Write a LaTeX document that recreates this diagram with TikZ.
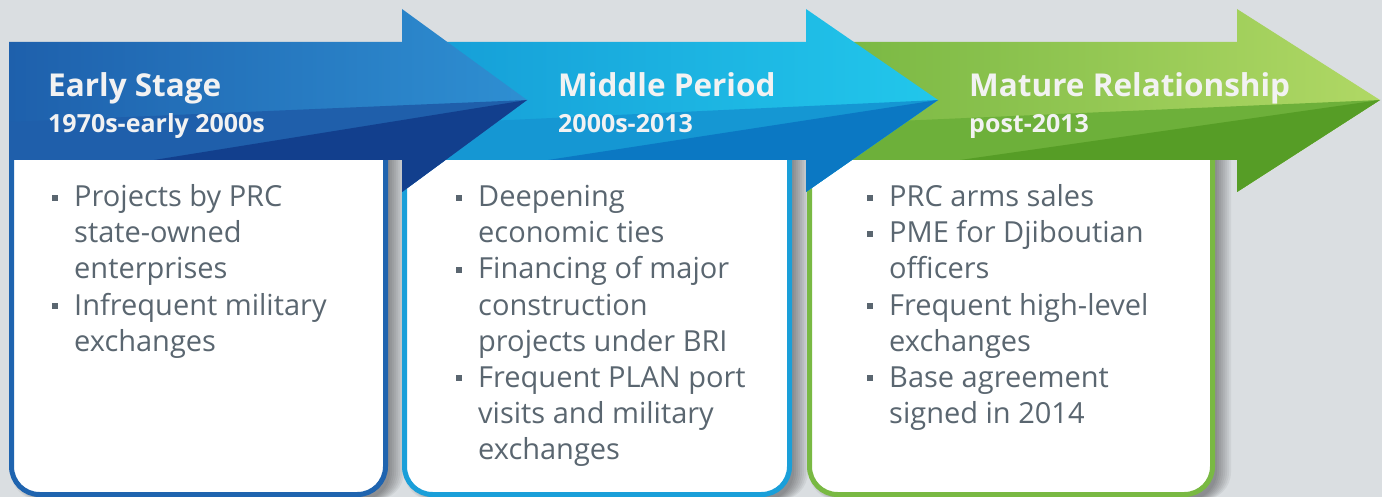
\documentclass[tikz,border=0pt]{standalone}
\usepackage{fontspec}
\setmainfont{Open Sans}
\definecolor{bg}{HTML}{DADEE1}
\definecolor{aoneL}{HTML}{1E60AC}
\definecolor{aoneR}{HTML}{2E8FD2}
\definecolor{aoneM}{HTML}{1F5FAB}
\definecolor{aoneD}{HTML}{123F8D}
\definecolor{atwoL}{HTML}{159CD6}
\definecolor{atwoR}{HTML}{22C7EB}
\definecolor{atwoM}{HTML}{1597D3}
\definecolor{atwoD}{HTML}{0B78C3}
\definecolor{athrL}{HTML}{76B641}
\definecolor{athrR}{HTML}{B0D865}
\definecolor{athrM}{HTML}{6DB03A}
\definecolor{athrD}{HTML}{569D26}
\definecolor{cone}{HTML}{1F64AF}
\definecolor{ctwo}{HTML}{1A9FD9}
\definecolor{cthr}{HTML}{79B943}
\definecolor{ttl}{HTML}{F2F2F2}
\definecolor{txt}{HTML}{5A6670}
\tikzset{
  cardbox/.style={line width=5pt, fill=white, rounded corners=28pt},
  titletext/.style={inner sep=0pt, anchor=base west, text=ttl, font=\bfseries\fontsize{31.5}{36}\selectfont},
  subtext/.style={inner sep=0pt, anchor=base west, text=ttl, font=\bfseries\fontsize{25}{30}\selectfont},
  bodytext/.style={inner sep=0pt, anchor=base west, text=txt, font=\fontsize{29}{36}\selectfont},
}
\newcommand\bitem[4]{%
  \fill[txt] (#2-22,#3-12) rectangle ++(6,6);
  \node[bodytext] (#1) at (#2,#3) {#4};}
\newcommand\bline[4]{\node[bodytext] (#1) at (#2,#3) {#4};}
\newcommand\cardshadow[2]{%
  \foreach \d in {2,4,...,16}{%
    \fill[black, opacity=0.05, rounded corners=28pt] (#1+\d,120) rectangle (#2+\d,500);}}
\begin{document}
\begin{tikzpicture}[x=1pt,y=-1pt]
\useasboundingbox (0,0) rectangle (1382,497);
\fill[bg] (0,0) rectangle (1382,497);
% shadows
\cardshadow{9}{388}
\cardshadow{402}{792}
\cardshadow{807}{1215}
% cards
\draw[cardbox, draw=cone] (11.5,120) -- (11.5,494.5) -- (385.5,494.5) -- (385.5,120) -- cycle;
\draw[cardbox, draw=ctwo] (404.5,120) -- (404.5,494.5) -- (789.5,494.5) -- (789.5,120) -- cycle;
\draw[cardbox, draw=cthr] (809.5,120) -- (809.5,494.5) -- (1212.5,494.5) -- (1212.5,120) -- cycle;
% arrow 3
\shade[left color=athrL, right color=athrR] (806,42) -- (1237,42) -- (1237,9) -- (1380,100) -- (1237,192) -- (1237,160) -- (806,160) -- cycle;
\fill[athrM] (806,125) -- (1380,100) -- (1237,192) -- (1237,160) -- (806,160) -- cycle;
\fill[athrD] (960,160) -- (1380,100) -- (1237,192) -- (1237,160) -- cycle;
% arrow 2
\shade[left color=atwoL, right color=atwoR] (402,42) -- (806,42) -- (806,9) -- (938,100) -- (806,192) -- (806,160) -- (402,160) -- cycle;
\fill[atwoM] (402,125) -- (938,100) -- (806,192) -- (806,160) -- (402,160) -- cycle;
\fill[atwoD] (548,160) -- (938,100) -- (806,192) -- (806,160) -- cycle;
% arrow 1
\shade[left color=aoneL, right color=aoneR] (9,42) -- (402,42) -- (402,9) -- (527,100) -- (402,192) -- (402,160) -- (9,160) -- cycle;
\fill[aoneM] (9,122) -- (527,100) -- (402,192) -- (402,160) -- (9,160) -- cycle;
\fill[aoneD] (154,160) -- (527,100) -- (402,192) -- (402,160) -- cycle;
% titles
\node[titletext] (t1) at (48,97) {Early Stage};
\node[subtext] (s1) at (48,133) {1970s-early 2000s};
\node[titletext] (t2) at (558,97) {Middle Period};
\node[subtext] (s2) at (558,133) {2000s-2013};
\node[titletext] (t3) at (969,97) {Mature Relationship};
\node[subtext] (s3) at (969,133) {post-2013};
% card 1
\bitem{a1}{74}{207}{Projects by PRC}
\bline{a2}{74}{243}{state-owned}
\bline{a3}{74}{279}{enterprises}
\bitem{a4}{74}{315}{Infrequent military}
\bline{a5}{74}{351}{exchanges}
% card 2
\bitem{b1}{478}{207}{Deepening}
\bline{b2}{478}{243}{economic ties}
\bitem{b3}{478}{279}{Financing of major}
\bline{b4}{478}{315}{construction}
\bline{b5}{478}{351}{projects under BRI}
\bitem{b6}{478}{387}{Frequent PLAN port}
\bline{b7}{478}{423}{visits and military}
\bline{b8}{478}{459}{exchanges}
% card 3
\bitem{c1}{889}{207}{PRC arms sales}
\bitem{c2}{889}{243}{PME for Djiboutian}
\bline{c3}{889}{279}{officers}
\bitem{c4}{889}{315}{Frequent high-level}
\bline{c5}{889}{351}{exchanges}
\bitem{c6}{889}{387}{Base agreement}
\bline{c7}{889}{423}{signed in 2014}
\end{tikzpicture}
\end{document}
